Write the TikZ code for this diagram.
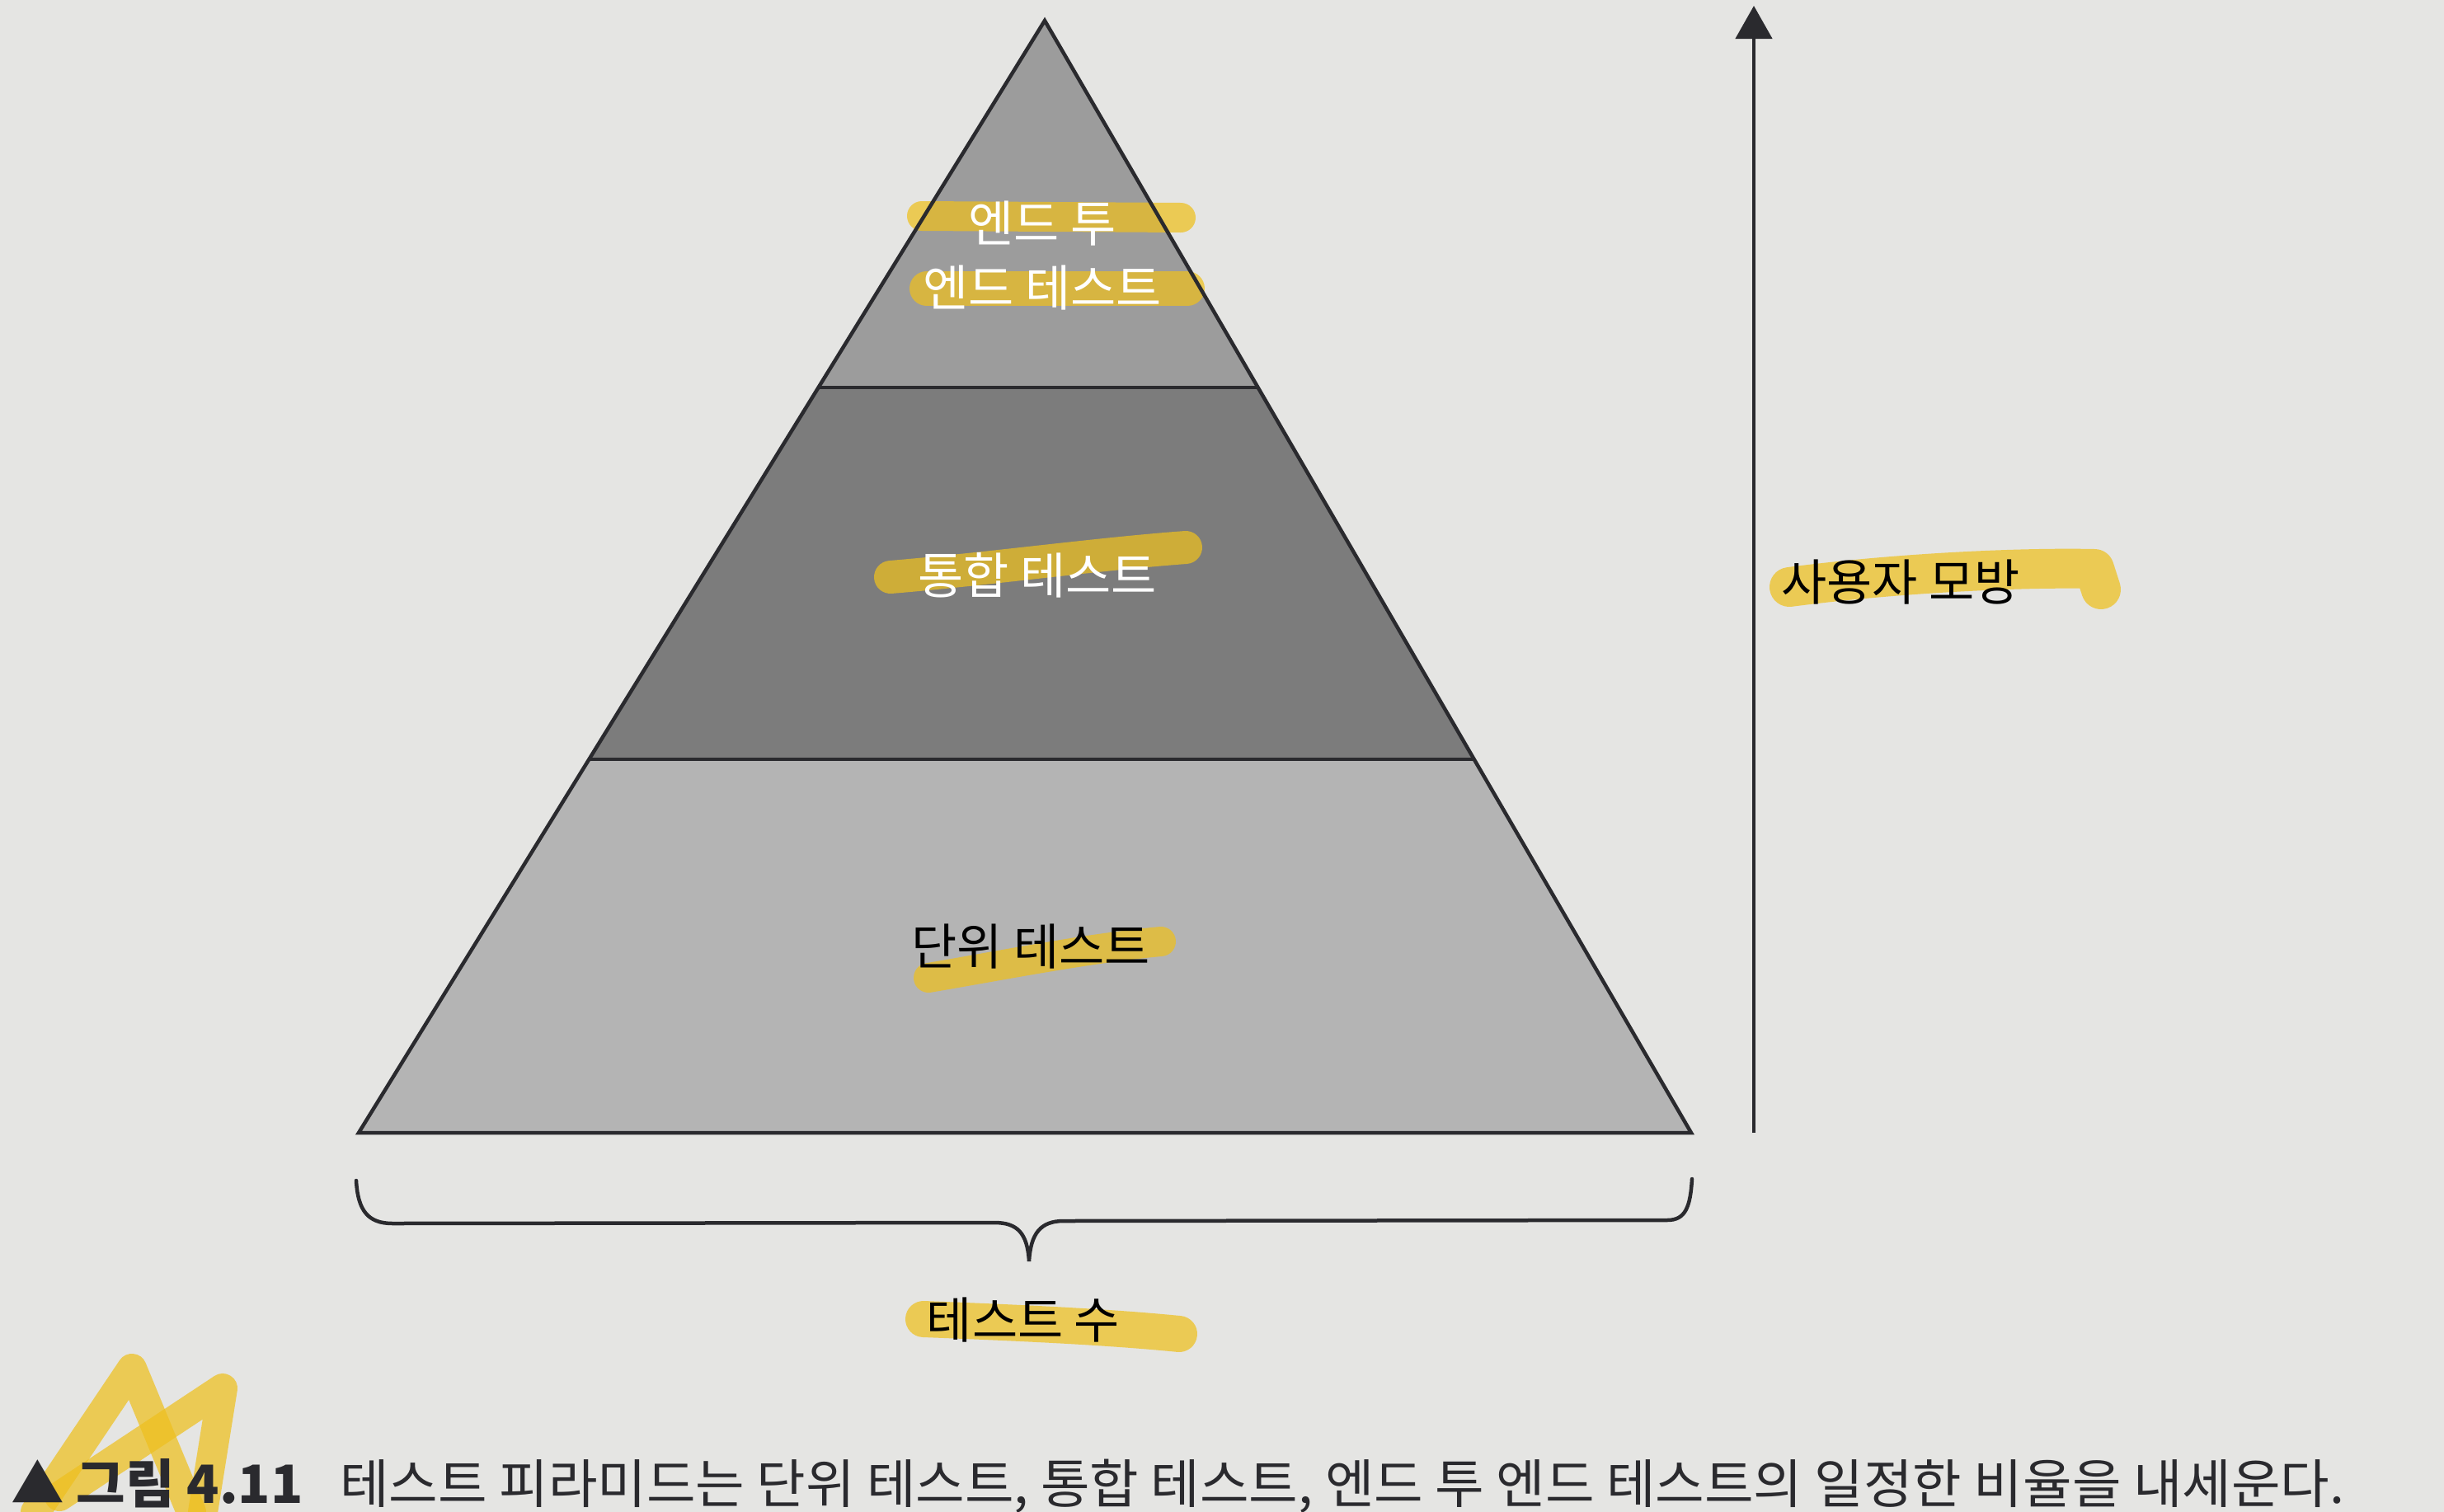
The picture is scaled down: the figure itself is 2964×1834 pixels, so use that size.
\documentclass[tikz,border=0pt]{standalone}
\usepackage{fontspec}
\setmainfont{Noto Sans CJK KR}
\usetikzlibrary{arrows.meta}
\definecolor{paper}{HTML}{E5E5E3}
\definecolor{topgray}{HTML}{9C9C9C}
\definecolor{midgray}{HTML}{7C7C7C}
\definecolor{botgray}{HTML}{B4B4B4}
\definecolor{inkc}{HTML}{2A2A2E}
\definecolor{marker}{RGB}{238,192,30}
\begin{document}
\begin{tikzpicture}[x=1pt,y=-1pt,
  lbl/.style={font=\fontsize{60}{78}\selectfont, inner sep=0pt, align=center},
  hl/.style={draw=marker, draw opacity=0.72, line cap=round, line join=round},
  outline/.style={draw=inkc, line width=4.5pt, line join=miter},
  sep/.style={draw=inkc, line width=3.5pt}]
% background / bounding box
\fill[paper] (0,0) rectangle (2964,1834);
\useasboundingbox (0,0) rectangle (2964,1834);

% pyramid corners
\coordinate (apex) at (1267,25);
\coordinate (bl) at (435,1374);
\coordinate (br) at (2051,1374);
\coordinate (l1) at (992,470);
\coordinate (r1) at (1526,470);
\coordinate (l2) at (714,921);
\coordinate (r2) at (1787,921);

% layers
\fill[topgray] (apex) -- (r1) -- (l1) -- cycle;
\fill[midgray] (l1) -- (r1) -- (r2) -- (l2) -- cycle;
\fill[botgray] (l2) -- (r2) -- (br) -- (bl) -- cycle;

% highlighter strokes
\draw[hl, line width=36pt] (1118,262) -- (1432,264);
\draw[hl, line width=42pt] (1124,350) -- (1440,350);
\draw[hl, line width=40pt] (1080,700) .. controls (1200,690) and (1330,672) .. (1438,664);
\draw[hl, line width=36pt] (1126,1186) .. controls (1220,1170) and (1320,1150) .. (1408,1142);
\draw[hl, line width=48pt] (2170,712) .. controls (2300,695) and (2450,688) .. (2540,690) -- (2548,715);
\draw[hl, line width=44pt] (1120,1600) .. controls (1250,1605) and (1350,1610) .. (1430,1618);
\draw[hl, line width=36pt] (43,1834) -- (160,1660) -- (232,1834);
\draw[hl, line width=36pt] (72,1815) -- (270,1684) -- (246,1834);

% outline and separators
\draw[sep] (l1) -- (r1);
\draw[sep] (l2) -- (r2);
\draw[outline] (apex) -- (br) -- (bl) -- cycle;

% labels in pyramid
\node[lbl, text=white] (e2e) at (1264,310) {엔드 투\\엔드 테스트};
\node[lbl, text=white] (integ) at (1258,698) {통합 테스트};
\node[lbl, text=black] (unit) at (1250,1148) {단위 테스트};

% vertical arrow
\coordinate (abot) at (2127,1374);
\coordinate (atop) at (2127,7);
\draw[draw=inkc, line width=4.5pt, -{Triangle[length=40pt,width=44pt]}] (abot) -- (atop);
\node[lbl, text=black, anchor=west] (mimic) at (2160,706) {사용자 모방};

% brace
\coordinate (bra) at (432,1432);
\coordinate (brb) at (2052,1430);
\coordinate (brtip) at (1248,1530);
\draw[draw=inkc, line width=4.5pt, line cap=round]
  (bra) .. controls (434,1468) and (446,1484) .. (476,1484) -- (1206,1483)
  .. controls (1234,1483) and (1246,1496) .. (brtip)
  .. controls (1250,1496) and (1262,1481) .. (1290,1481) -- (2022,1480)
  .. controls (2044,1480) and (2050,1464) .. (brb);
\node[lbl, text=black] (count) at (1241,1601) {테스트 수};

% caption
\node[inner sep=0pt, anchor=west, text=inkc, font=\fontsize{64}{74}\selectfont] (cap) at (13,1803)
  {\resizebox{2830pt}{\height}{\textbf{▲ 그림 4.11}\hspace{30pt} 테스트 피라미드는 단위 테스트, 통합 테스트, 엔드 투 엔드 테스트의 일정한 비율을 내세운다.}};
\end{tikzpicture}
\end{document}
